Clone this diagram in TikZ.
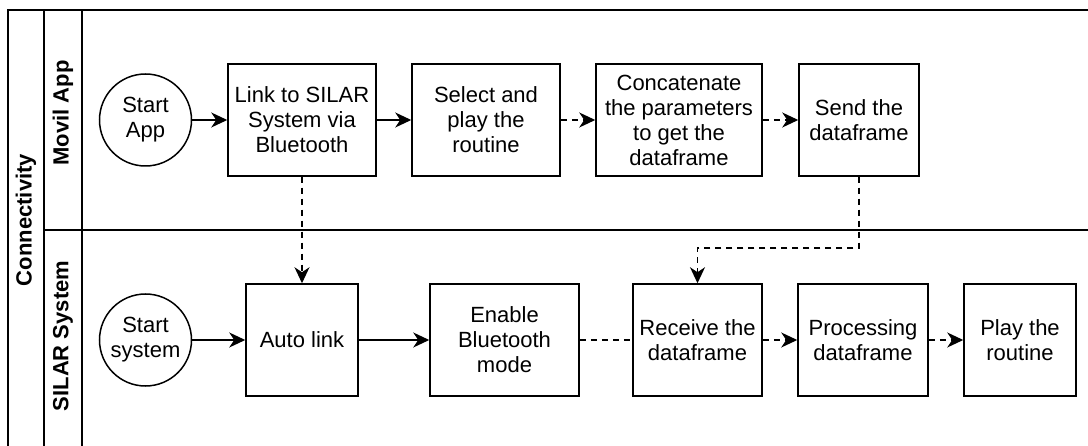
\documentclass[tikz,border=0pt]{standalone}
\usepackage{fontspec}
\setmainfont{Liberation Sans}
\usetikzlibrary{arrows.meta}
\begin{document}
\begin{tikzpicture}[x=1pt,y=-1pt,
  frame/.style={line width=1.5pt},
  box/.style={draw, line width=1.5pt, minimum width=#1 pt, minimum height=112pt,
    inner sep=0pt, align=center, font=\fontsize{22}{25}\selectfont},
  startnode/.style={draw, circle, line width=1.5pt, minimum size=92pt, inner sep=0pt,
    align=center, font=\fontsize{22}{25}\selectfont},
  lab/.style={rotate=90, font=\bfseries\fontsize{22}{25}\selectfont},
  conn/.style={line width=1.5pt},
  arr/.style={conn, -{Stealth[length=16pt,width=15pt,inset=5pt]}},
  dsh/.style={dash pattern=on 6pt off 5pt}]
\useasboundingbox (0,0) rectangle (1088,446);
% pool frame
\draw[frame] (8,446) -- (8,10) -- (1088,10);
\draw[frame] (44,10) -- (44,446);
\draw[frame] (82,10) -- (82,446);
\draw[frame] (44,230) -- (1088,230);
\node[lab] (pool) at (26,220) {Connectivity};
\node[lab] (lane1) at (63,113) {Movil App};
\node[lab] (lane2) at (63,336) {SILAR System};
% top lane
\node[startnode] (startapp) at (145.5,120) {Start\\App};
\node[box=148] (link) at (302,120) {Link to SILAR\\System via\\Bluetooth};
\node[box=148] (select) at (486,120) {Select and\\play the\\routine};
\node[box=166] (concat) at (679,120) {Concatenate\\the parameters\\to get the\\dataframe};
\node[box=120] (send) at (859,120) {Send the\\dataframe};
% bottom lane
\node[startnode] (startsys) at (145.5,340) {Start\\system};
\node[box=112] (auto) at (302,340) {Auto link};
\node[box=149] (enable) at (504.5,340) {Enable\\Bluetooth\\mode};
\node[box=129] (receive) at (697.5,340) {Receive the\\dataframe};
\node[box=130] (proc) at (863,340) {Processing\\dataframe};
\node[box=112] (play) at (1020,340) {Play the\\routine};
% connectors
\draw[arr] (startapp) -- (link);
\draw[arr] (link) -- (select);
\draw[arr,dsh] (select) -- (concat);
\draw[arr,dsh] (concat) -- (send);
\draw[arr,dsh] (link) -- (auto);
\coordinate (bend) at (859,248);
\draw[arr,dsh] (send.south) -- (bend) -| (receive.north);
\draw[arr] (startsys) -- (auto);
\draw[arr] (auto) -- (enable);
\draw[conn,dsh] (enable) -- (receive);
\draw[arr,dsh] (receive) -- (proc);
\draw[arr,dsh] (proc) -- (play);
\end{tikzpicture}
\end{document}
